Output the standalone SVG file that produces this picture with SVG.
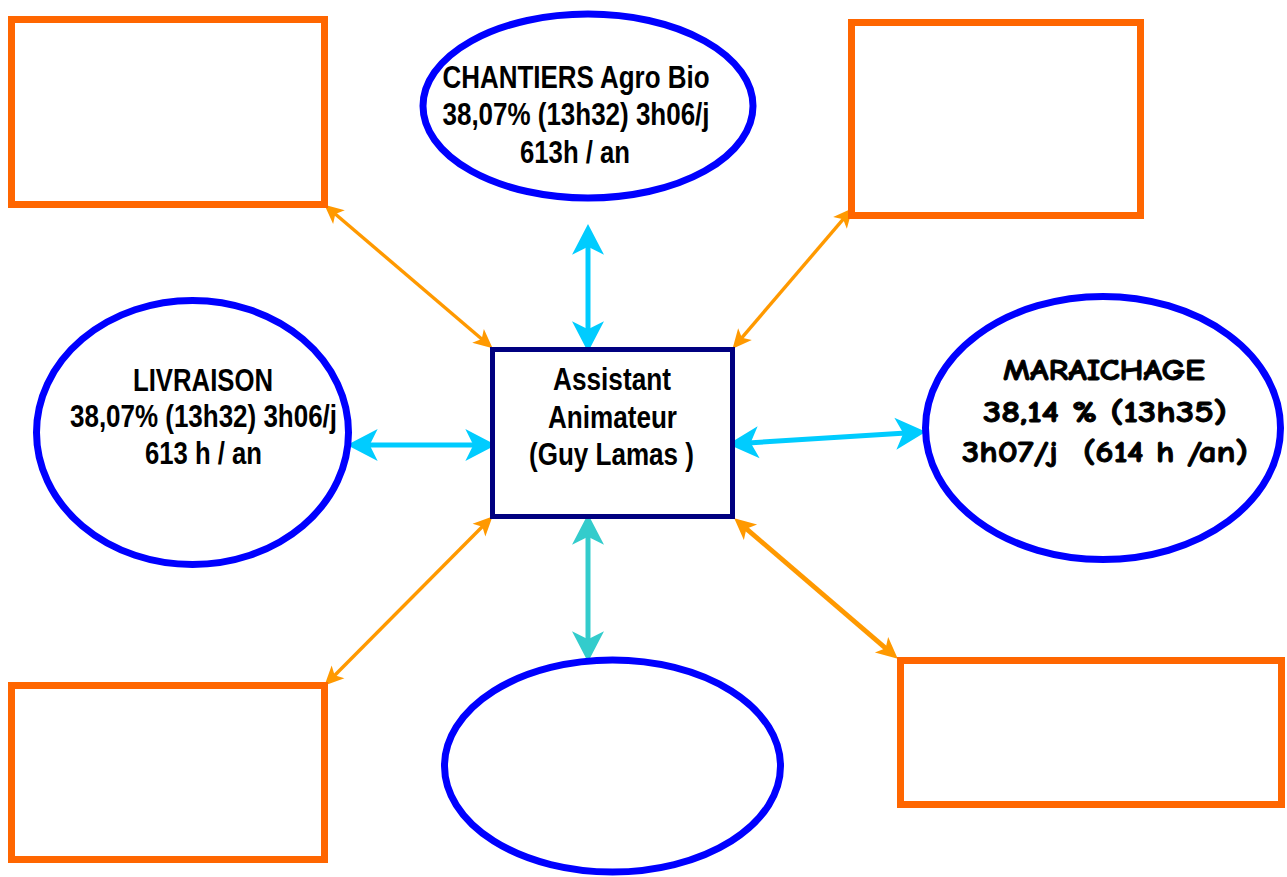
<svg xmlns="http://www.w3.org/2000/svg" width="1287" height="877" viewBox="0 0 1287 877">
<style>
.box{fill:#fff;stroke:#FF6600;stroke-width:7}
.ell{fill:#fff;stroke:#0000FF;stroke-width:7}
.ctr{fill:#fff;stroke:#000080;stroke-width:5}
.t{font-family:"Liberation Sans Narrow","Arial Narrow","Liberation Sans",sans-serif;font-weight:bold;font-size:31px;fill:#000;text-anchor:middle}
.c{font-family:"Comic Sans MS","Comic Neue","DejaVu Sans",sans-serif;font-weight:bold;font-size:30px;fill:#000;stroke:#000;stroke-width:0.9;text-anchor:middle}
.cy{stroke:#00CCFF;stroke-width:5;fill:none;marker-start:url(#hc);marker-end:url(#hc)}
.tl{stroke:#33CCCC;stroke-width:5;fill:none;marker-start:url(#ht);marker-end:url(#ht)}
.or{stroke:#FF9900;stroke-width:3.4;fill:none;marker-start:url(#ho);marker-end:url(#ho)}
.or2{stroke:#FF9900;stroke-width:4.8;fill:none;marker-start:url(#ho2);marker-end:url(#ho2)}
</style>
<defs>
<marker id="hc" markerUnits="userSpaceOnUse" orient="auto-start-reverse" refX="-15" refY="0" markerWidth="40" markerHeight="40" viewBox="-25 -15 30 30" overflow="visible">
<path d="M0,0 L-23,-12 L-17,0 L-23,12 Z" fill="#00CCFF"/>
</marker>
<marker id="ht" markerUnits="userSpaceOnUse" orient="auto-start-reverse" refX="-15" refY="0" markerWidth="40" markerHeight="40" viewBox="-25 -15 30 30" overflow="visible">
<path d="M0,0 L-23,-12 L-17,0 L-23,12 Z" fill="#33CCCC"/>
</marker>
<marker id="ho" markerUnits="userSpaceOnUse" orient="auto-start-reverse" refX="-11" refY="0" markerWidth="30" markerHeight="30" viewBox="-20 -10 25 20" overflow="visible">
<path d="M0,0 L-16,-7.5 L-12,0 L-16,7.5 Z" fill="#FF9900"/>
</marker>
<marker id="ho2" markerUnits="userSpaceOnUse" orient="auto-start-reverse" refX="-14" refY="0" markerWidth="30" markerHeight="30" viewBox="-24 -12 28 24" overflow="visible">
<path d="M0,0 L-20,-9.5 L-15,0 L-20,9.5 Z" fill="#FF9900"/>
</marker>
</defs>

<g id="connectors">
<line class="cy" x1="588" y1="244" x2="588" y2="332"/>
<line class="cy" x1="367" y1="445" x2="476" y2="445"/>
<line class="cy" x1="748" y1="443" x2="906" y2="433"/>
<line class="tl" x1="588" y1="534" x2="588" y2="642"/>
<line class="or" x1="334.4" y1="213.2" x2="482.6" y2="339.8"/>
<line class="or" x1="843.9" y1="218.4" x2="741.1" y2="338.6"/>
<line class="or" x1="333.8" y1="676.2" x2="483.2" y2="525.8"/>
<line class="or2" x1="745.6" y1="528.1" x2="886.4" y2="648.9"/>
</g>

<g id="box-top-left"><rect class="box" x="11.5" y="19.5" width="313" height="185"/></g>
<g id="box-top-right"><rect class="box" x="851.5" y="22.5" width="289" height="193"/></g>
<g id="box-bottom-left"><rect class="box" x="11.5" y="685.5" width="313" height="174"/></g>
<g id="box-bottom-right"><rect class="box" x="900.5" y="660.5" width="381" height="144"/></g>

<g id="chantiers">
<ellipse class="ell" cx="588" cy="106" rx="165" ry="92"/>
<text class="t" x="576" y="88" textLength="267" lengthAdjust="spacingAndGlyphs">CHANTIERS Agro Bio</text>
<text class="t" x="576" y="125" textLength="267" lengthAdjust="spacingAndGlyphs">38,07% (13h32) 3h06/j</text>
<text class="t" x="575" y="163" textLength="110" lengthAdjust="spacingAndGlyphs">613h / an</text>
</g>

<g id="livraison">
<ellipse class="ell" cx="192.5" cy="432.5" rx="156" ry="132"/>
<text class="t" x="203" y="391" textLength="140" lengthAdjust="spacingAndGlyphs">LIVRAISON</text>
<text class="t" x="203.5" y="427" textLength="267" lengthAdjust="spacingAndGlyphs">38,07% (13h32) 3h06/j</text>
<text class="t" x="203.5" y="464" textLength="117" lengthAdjust="spacingAndGlyphs">613 h / an</text>
</g>

<g id="maraichage">
<ellipse class="ell" cx="1103" cy="428" rx="177.5" ry="131.5"/>
<text class="c" x="1104" y="380" textLength="202" lengthAdjust="spacingAndGlyphs">MARAICHAGE</text>
<text class="c" x="1105" y="422" textLength="244" lengthAdjust="spacingAndGlyphs">38,14 % (13h35)</text>
<text class="c" x="1105" y="462" textLength="286" lengthAdjust="spacingAndGlyphs" xml:space="preserve">3h07/j  (614 h /an)</text>
</g>

<g id="bottom-ellipse">
<ellipse class="ell" cx="612.5" cy="766" rx="168" ry="106"/>
</g>

<g id="assistant">
<rect class="ctr" x="492.5" y="349.5" width="240" height="167"/>
<text class="t" x="612" y="390" textLength="118" lengthAdjust="spacingAndGlyphs">Assistant</text>
<text class="t" x="612.5" y="428" textLength="129" lengthAdjust="spacingAndGlyphs">Animateur</text>
<text class="t" x="611.5" y="465" textLength="165" lengthAdjust="spacingAndGlyphs" xml:space="preserve">(Guy Lamas )</text>
</g>
</svg>
